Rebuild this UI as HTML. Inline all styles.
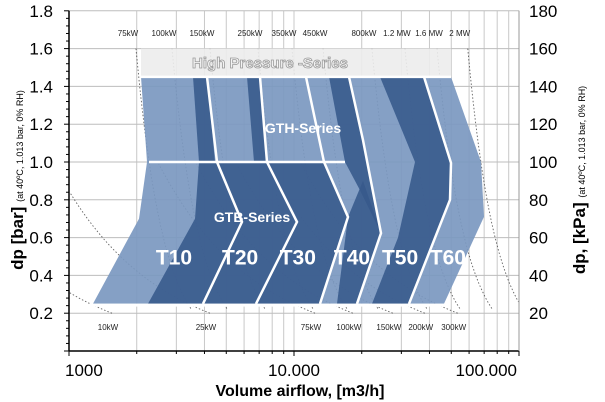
<!DOCTYPE html>
<html><head><meta charset="utf-8"><style>
html,body{margin:0;padding:0;background:#fff;}
svg{display:block;font-family:"Liberation Sans",sans-serif;}
</style></head><body>
<svg id="chart" width="605" height="402" viewBox="0 0 605 402">
<g id="grid"></g>
<g id="curves"></g>
<g id="shapes"></g>
<g id="lines"></g>
<g id="axes"></g>
<g id="labels"></g>
</svg>
<script>
// ---- data ----
const yTicks = [0.2,0.4,0.6,0.8,1.0,1.2,1.4,1.6,1.8];
const yTickLabels = ["0.2","0.4","0.6","0.8","1.0","1.2","1.4","1.6","1.8"];
const kpaLabels = ["20","40","60","80","100","120","140","160","180"];
const xMajor = [1000,10000,100000];
const xMajorLabels = ["1000","10.000","100.000"];
const xMinor = [2000,3000,4000,5000,6000,7000,8000,9000,20000,30000,40000,50000,60000,70000,80000,90000];
const topPowerLabels = ["75kW","100kW","150kW","250kW","350kW","450kW","800kW","1.2 MW","1.6 MW","2  MW"];
const topPowerFlow = [1985,2869,4231,6918,9794,13460,22200,31130,43220,59190];
const botPowerLabels = ["10kW","25kW","75kW","100kW","150kW","200kW","300kW"];
const botPowerFlow = [1553,4231,12400,18260,27500,38130,53400];
const hpBand = [[2089,1.6],[49870,1.6],[49870,1.45],[2089,1.45]];
const lightArea = [[2089,1.45],[49870,1.45],[67780,1.0],[69890,0.71],[46420,0.25],[1278,0.25],[2048,0.70],[2222,1.0]];
const darkT10 = [[2244,0.25],[3631,0.70],[3783,1.0],[4549,1.0],[5873,0.683],[3941,0.25]];
const darkGth10 = [[3557,1.45],[4105,1.45],[4456,1.0],[3783,1.0]];
const darkT20 = [[3941,0.25],[5873,0.683],[4549,1.0],[7586,1.0],[10310,0.683],[6779,0.25]];
const darkGth20 = [[6183,1.45],[7063,1.45],[7586,1.0],[6643,1.0]];
const darkT30 = [[6779,0.25],[10310,0.683],[7586,1.0],[13590,1.0],[17380,0.709],[13050,0.25]];
const darkGth30 = [[14310,1.45],[17560,1.45],[20260,1.116],[24360,0.624],[19650,0.85],[16860,1.0]];
const darkT40 = [[15530,0.25],[19050,0.25],[24360,0.624],[20260,0.9],[17380,0.709]];
const darkT50 = [[24110,1.45],[37830,1.45],[49870,1.0],[49360,0.80],[32440,0.25],[22220,0.25],[29000,0.60],[34490,1.0]];
const chevron1 = [[4105,1.45],[4549,1.0],[5873,0.683],[3941,0.25]];
const chevron2 = [[7063,1.45],[7586,1.0],[10310,0.683],[6779,0.25]];
const chevron3 = [[11310,1.45],[13590,1.0],[17380,0.709],[13050,0.25]];
const chevron4 = [[17560,1.45],[20260,1.116],[24360,0.624],[19050,0.25]];
const chevron5 = [[37830,1.45],[49870,0.995],[49360,0.80],[32440,0.25]];
const gthTop = [[2089,1.45],[49870,1.45]];
const gtbTop = [[2267,1.0],[16860,1.0]];
const baseLine = [[1227,0.243],[47380,0.243]];
const typeNames = ["T10","T20","T30","T40","T50","T60"];
const typeFlow = [2929,5760,10400,18100,29600,48300];
const typeDp = [0.5,0.5,0.5,0.5,0.5,0.5];

// ---- axes functions ----
const X0=69, DEC=225, Y0=351, YS=189;
function x(f){return X0+DEC*Math.log10(f/1000);}
function y(d){return Y0-YS*d;}
const NS="http://www.w3.org/2000/svg";
function mk(tag,attrs,parent){const e=document.createElementNS(NS,tag);for(const k in attrs)e.setAttribute(k,attrs[k]);parent.appendChild(e);return e;}
const grid=document.getElementById('grid'),curves=document.getElementById('curves'),shapes=document.getElementById('shapes'),lines=document.getElementById('lines'),axes=document.getElementById('axes'),labels=document.getElementById('labels');
const L=x(1000),R=x(100000),T=y(1.8),B=y(0);

xMinor.concat(xMajor).forEach(v=>{
  const e=mk('line',{x1:x(v),x2:x(v),y1:T,y2:B,stroke:'#c8c8c8','stroke-width':1},grid);
  
  
});
yTicks.forEach(v=>{
  const e=mk('line',{x1:L,x2:R,y1:y(v),y2:y(v),stroke:'#bdbdbd','stroke-width':1},grid);
  
  
});

function curvePath(pts){return 'M'+pts.map(p=>p[0].toFixed(1)+','+p[1].toFixed(1)).join('L');}
topPowerFlow.forEach((f0,i)=>{
  const pts=[];
  for(let d=1.6;d>=0.2;d-=0.02){const f=f0*Math.pow(d/1.6,-1/3.5);pts.push([x(f),y(d)]);}
  const clipped=pts.filter(p=>p[0]<=R);
  if(clipped.length>1){
    const e=mk('path',{d:curvePath(clipped),fill:'none',stroke:'#222','stroke-width':0.9,'stroke-dasharray':'1.5 2',opacity:0.7},curves);
    
    
  }
  const t=mk('text',{x:x(f0)-8,y:36,'font-size':8,'text-anchor':'middle',fill:'#222'},labels);
  t.textContent=topPowerLabels[i];
  
  
});
botPowerFlow.forEach((f0,i)=>{
  const pts=[];
  for(let d=0.2;d<=1.0;d+=0.01){const f=f0*0.2/d;if(f>=1000)pts.push([x(f),y(d)]);}
  if(pts.length>1){
    const e=mk('path',{d:curvePath(pts),fill:'none',stroke:'#222','stroke-width':0.9,'stroke-dasharray':'1.5 2',opacity:0.7},curves);
    
    
  }
  const t=mk('text',{x:x(f0)-4,y:330,'font-size':8,'text-anchor':'middle',fill:'#222'},labels);
  t.textContent=botPowerLabels[i];
  
  
});

function poly(arr,fill,name,op){
  const e=mk('polygon',{points:arr.map(p=>x(p[0]).toFixed(1)+','+y(p[1]).toFixed(1)).join(' '),fill:fill,'fill-opacity':op},shapes);
  
  
}
poly(hpBand,'#ececec','high-pressure-band',0.9);
poly(lightArea,'#7b98c0','series-light-area',0.92);
const DK='#37598b';
poly(darkT10,DK,'t10-dark-area',0.88);
poly(darkGth10,DK,'gth-t10-dark-area',0.88);
poly(darkT20,DK,'t20-dark-area',0.88);
poly(darkGth20,DK,'gth-t20-dark-area',0.88);
poly(darkT30,DK,'t30-dark-area',0.88);
poly(darkGth30,DK,'gth-t30-dark-area',0.88);
poly(darkT40,DK,'t40-dark-area',0.88);
poly(darkT50,DK,'t50-dark-area',0.88);

function pl(arr,name,w){
  const e=mk('polyline',{points:arr.map(p=>x(p[0]).toFixed(1)+','+y(p[1]).toFixed(1)).join(' '),fill:'none',stroke:'#fff','stroke-width':w,'stroke-linejoin':'miter'},lines);
  
  
}
pl(chevron1,'t10-t20-boundary',2.5);
pl(chevron2,'t20-t30-boundary',2.5);
pl(chevron3,'t30-t40-boundary',2.5);
pl(chevron4,'t40-t50-boundary',2.5);
pl(chevron5,'t50-t60-boundary',2.5);
pl(gthTop,'gth-top-edge',2.5);
pl(gtbTop,'gtb-top-edge',2.5);
pl(baseLine,'base-edge',3);

[[L,T,L,B],[L,B,R,B]].forEach(a=>{const e=mk('line',{x1:a[0],y1:a[1],x2:a[2],y2:a[3],stroke:'#000','stroke-width':1.5},axes);
  
  });
{const e=mk('line',{x1:R,y1:T,x2:R,y2:B,stroke:'#999','stroke-width':1},axes);
 
 }
for(let v=0;v<=1.8001;v+=0.04){const e=mk('line',{x1:L-(Math.abs(v/0.2-Math.round(v/0.2))<0.01?5:3),x2:L,y1:y(v),y2:y(v),stroke:'#000','stroke-width':1},axes);
  
  }
xMinor.concat(xMajor).forEach(v=>{const e=mk('line',{x1:x(v),x2:x(v),y1:B,y2:B+(xMajor.includes(v)?5:3),stroke:'#000','stroke-width':1},axes);
  
  });
yTicks.forEach((v,i)=>{
  const t=mk('text',{x:53,y:y(v)+6,'font-size':17,'text-anchor':'end',fill:'#000'},labels);
  t.textContent=yTickLabels[i];
  
  
  const t2=mk('text',{x:529,y:y(v)+6,'font-size':17,'text-anchor':'start',fill:'#000'},labels);
  t2.textContent=kpaLabels[i];
  
  
});
const xAnch=['start','middle','end'],xOff=[-4,0,-2];
xMajor.forEach((v,i)=>{
  const t=mk('text',{x:x(v)+xOff[i],y:376,'font-size':17,'text-anchor':xAnch[i],fill:'#000'},labels);
  t.textContent=xMajorLabels[i];
  
  
});
typeNames.forEach((n,i)=>{
  const t=mk('text',{x:x(typeFlow[i]),y:y(typeDp[i])+8,'font-size':21,'font-weight':'bold','text-anchor':'middle',fill:'#fff'},labels);
  t.textContent=n;
  
  
});
</script>
<script>
const lab=document.getElementById('labels');
lab.insertAdjacentHTML('beforeend',
 '<text x="270" y="68" font-size="15" font-weight="bold" text-anchor="middle" fill="#f4f4f4" stroke="#9a9a9a" stroke-width="0.8">High Pressure -Series</text>'+
 '<text x="303" y="133" font-size="14" font-weight="bold" text-anchor="middle" fill="#fff">GTH-Series</text>'+
 '<text x="252" y="222" font-size="14" font-weight="bold" text-anchor="middle" fill="#fff">GTB-Series</text>'+
 '<text x="300" y="396" font-size="16" font-weight="bold" text-anchor="middle" fill="#000">Volume airflow, [m3/h]</text>'+
 '<text transform="translate(23,180) rotate(-90)" text-anchor="middle" fill="#000"><tspan font-size="17" font-weight="bold">dp [bar] </tspan><tspan font-size="9">(at 40ºC, 1.013 bar, 0% RH)</tspan></text>'+
 '<text transform="translate(585,180) rotate(-90)" text-anchor="middle" fill="#000"><tspan font-size="17" font-weight="bold">dp, [kPa] </tspan><tspan font-size="9">(at 40ºC, 1.013 bar, 0% RH)</tspan></text>');
</script>
</body></html>
